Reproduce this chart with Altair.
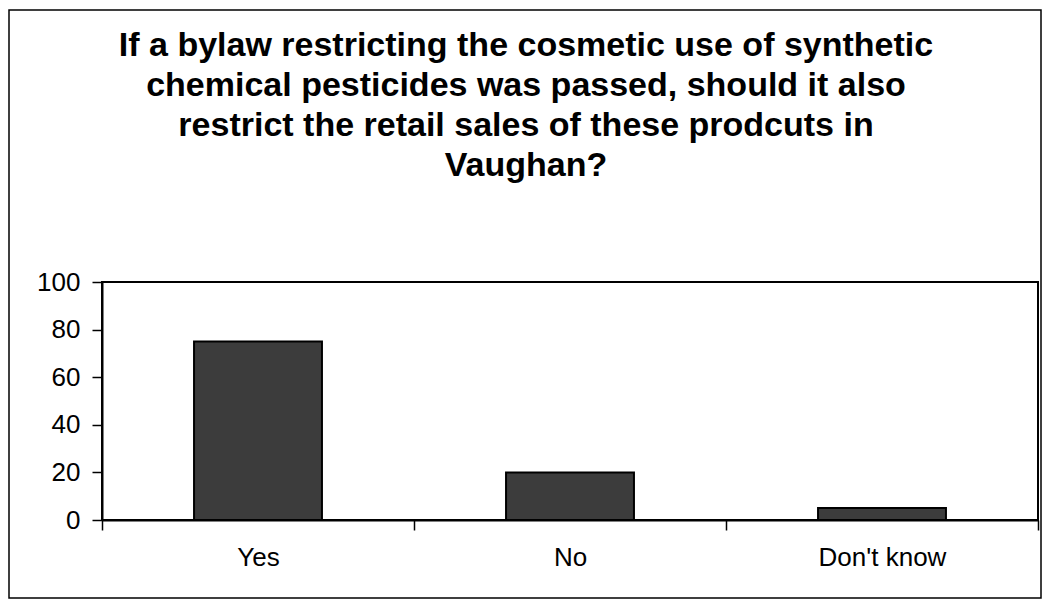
import altair as alt
import pandas as pd

categories = ["Yes", "No", "Don't know"]
values = [75, 20, 5]
y_ticks = [0, 20, 40, 60, 80, 100]
title_lines = [
    "If a bylaw restricting the cosmetic use of synthetic",
    "chemical pesticides was passed, should it also",
    "restrict the retail sales of these prodcuts in",
    "Vaughan?",
]

df = pd.DataFrame({"answer": categories, "pct": values})

W, H = 936, 238
FONT = "Liberation Sans"

bars = alt.Chart(df).mark_bar(
    width={"band": 0.41}, color="#3c3c3c", stroke="black", strokeWidth=2
).encode(
    x=alt.X(
        "answer:N",
        sort=categories,
        title=None,
        scale=alt.Scale(paddingInner=0, paddingOuter=0),
        axis=alt.Axis(
            labelAngle=0,
            tickBand="extent",
            tickSize=10,
            labelPadding=14,
            labelFontSize=26,
            labelFont=FONT,
            labelColor="black",
            domainColor="black",
            domainWidth=2,
            tickColor="black",
            tickWidth=1.5,
        ),
    ),
    y=alt.Y(
        "pct:Q",
        title=None,
        scale=alt.Scale(domain=[0, 100], nice=False),
        axis=alt.Axis(
            values=y_ticks,
            grid=False,
            tickSize=10,
            labelPadding=12,
            labelFontSize=26,
            labelFont=FONT,
            labelColor="black",
            domainColor="black",
            domainWidth=2,
            tickColor="black",
            tickWidth=1.5,
        ),
    ),
)

frame = alt.Chart(pd.DataFrame({"f": [0]})).mark_rect(
    fill=None, stroke="black", strokeWidth=1.5
).encode(
    x=alt.value(-93), x2=alt.value(W + 3), y=alt.value(-272), y2=alt.value(H + 78)
)

title = alt.Chart(pd.DataFrame({"f": [0]})).mark_text(
    text=title_lines,
    font=FONT,
    fontSize=34,
    fontWeight="bold",
    lineHeight=40,
    align="center",
    baseline="top",
    color="black",
).encode(x=alt.value(424), y=alt.value(-253))

chart = alt.layer(bars, frame, title).properties(
    width=W,
    height=H,
    background="white",
    autosize=alt.AutoSizeParams(type="none"),
    padding={"left": 94, "top": 274, "right": 4, "bottom": 80},
).configure_view(stroke="black", strokeWidth=2)

chart.save("out.html", embed_options={"renderer": "svg", "actions": False})
